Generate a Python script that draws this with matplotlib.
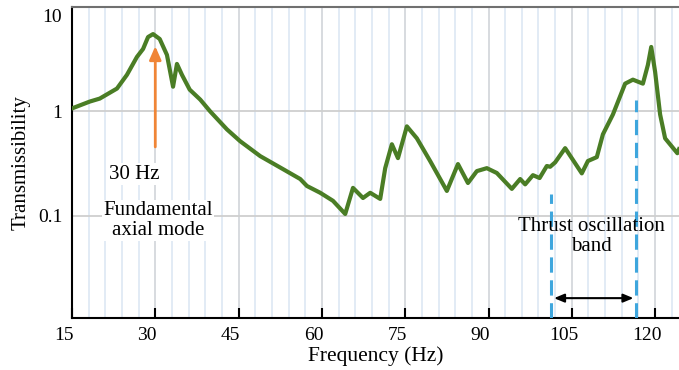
import matplotlib
matplotlib.use("Agg")
import matplotlib.pyplot as plt
import matplotlib.transforms as mtransforms
from matplotlib.ticker import FixedLocator, MultipleLocator

# transmissibility curve
freq = [15.0, 18.2, 20.0, 23.1, 24.9, 26.7, 27.8, 28.7, 29.6, 30.8, 32.1, 33.2,
        33.9, 34.8, 36.2, 38.1, 39.9, 42.9, 45.3, 48.9, 53.0, 56.1, 57.3, 59.7,
        62.0, 64.2, 65.6, 67.4, 68.7, 70.5, 71.4, 72.6, 73.7, 75.3, 77.1, 79.5,
        82.5, 84.5, 86.3, 87.9, 89.7, 91.5, 94.2, 95.7, 96.6, 98.0, 99.2, 100.5,
        101.1, 102.0, 103.8, 106.8, 107.9, 109.5, 110.6, 112.4, 114.6, 116.0, 117.8,
        118.7, 119.3, 120.0, 120.9, 121.8, 124.0, 124.3]
trans = [1.07, 1.245, 1.33, 1.66, 2.25, 3.34, 3.98, 5.18, 5.53, 4.96, 3.49, 1.73,
         2.86, 2.25, 1.62, 1.30, 1.0, 0.674, 0.518, 0.373, 0.28, 0.225, 0.193, 0.166,
         0.139, 0.104, 0.185, 0.148, 0.166, 0.145, 0.286, 0.485, 0.357, 0.72, 0.553, 0.334,
         0.173, 0.313, 0.206, 0.268, 0.286, 0.257, 0.181, 0.225, 0.200, 0.245, 0.230, 0.30,
         0.295, 0.325, 0.445, 0.255, 0.335, 0.365, 0.604, 0.936, 1.85, 2.02, 1.85,
         2.80, 4.16, 2.40, 0.936, 0.553, 0.398, 0.435]

xticks = [15, 30, 45, 60, 75, 90, 105, 120]
yticks = [0.1, 1, 10]
ytick_labels = ["0.1", "1", "10"]
fundamental_hz = 30
band = [101.3, 116.6]

plt.rcParams["font.family"] = ["Liberation Serif", "DejaVu Serif"]

fig = plt.figure(figsize=(6.79, 3.70), dpi=100)
ax = fig.add_axes([0.106, 0.14, 0.894, 0.841])

ax.set_yscale("log")
ax.set_xlim(15, 124.3)
ax.set_ylim(0.0104, 10.05)

# grid: light blue every 3 Hz, grey at the labelled values
ax.xaxis.set_minor_locator(MultipleLocator(3))
ax.grid(True, which="minor", axis="x", color="#dfe9f5", lw=1.3)
ax.grid(True, which="major", axis="x", color="#d4d8dc", lw=1.3)
ax.yaxis.set_major_locator(FixedLocator(yticks))
ax.yaxis.set_minor_locator(FixedLocator([]))
ax.set_yticklabels(ytick_labels)
ax.grid(True, which="major", axis="y", color="#cfcfcf", lw=1.3)
ax.set_axisbelow(True)

ax.set_xticks(xticks)
ax.tick_params(axis="x", which="major", direction="in", length=7, width=1.5,
               labelsize=14, pad=6)
ax.tick_params(axis="x", which="minor", length=0)
ax.tick_params(axis="y", length=0, labelsize=14, pad=7)

# labels in the reference sit a little left of their ticks
shift = mtransforms.ScaledTranslation(-0.08, 0, fig.dpi_scale_trans)
for lab in ax.get_xticklabels():
    lab.set_transform(lab.get_transform() + shift)
# the "10" sits a bit below the top edge
top_lab = ax.get_yticklabels()[-1]
top_lab.set_transform(top_lab.get_transform() +
                      mtransforms.ScaledTranslation(0, -0.08, fig.dpi_scale_trans))

for s in ["left", "bottom"]:
    ax.spines[s].set_linewidth(1.5)
ax.spines["top"].set_color("#707070")
ax.spines["top"].set_linewidth(1.5)
ax.spines["right"].set_visible(False)

ax.plot(freq, trans, color="#4a7d25", lw=3, solid_joinstyle="round", zorder=3)

# fundamental mode arrow
ax.annotate("", xy=(fundamental_hz, 4.5), xytext=(fundamental_hz, 0.43),
            arrowprops=dict(arrowstyle="-|>,head_length=0.8,head_width=0.35",
                            color="#f08536", lw=2), zorder=4)
ax.text(26.3, 0.25, "30 Hz", fontsize=15, ha="center", va="center",
        bbox=dict(fc="white", ec="none", pad=1))
ax.text(30.5, 0.09, "Fundamental\naxial mode", fontsize=15, ha="center",
        va="center", linespacing=1.05, bbox=dict(fc="white", ec="none", pad=1))

# thrust oscillation band
for b, top in zip(band, [0.40, 0.70]):
    ax.axvline(b, ymin=0, ymax=top, color="#3ea6dd", lw=2.2,
               ls=(0, (5, 2.5)), zorder=4)
ax.annotate("", xy=(band[0], 0.0162), xytext=(band[1], 0.0162),
            arrowprops=dict(arrowstyle="<|-|>,head_length=0.6,head_width=0.25",
                            color="black", lw=1.5), zorder=5)
ax.text(108.6, 0.063, "Thrust oscillation\nband", fontsize=15,
        ha="center", va="center", linespacing=1.05, zorder=6)

ax.set_xlabel("Frequency (Hz)", fontsize=15.5, labelpad=2)
ax.set_ylabel("Transmissibility", fontsize=15, labelpad=5)

fig.savefig("out.png", dpi=100)
